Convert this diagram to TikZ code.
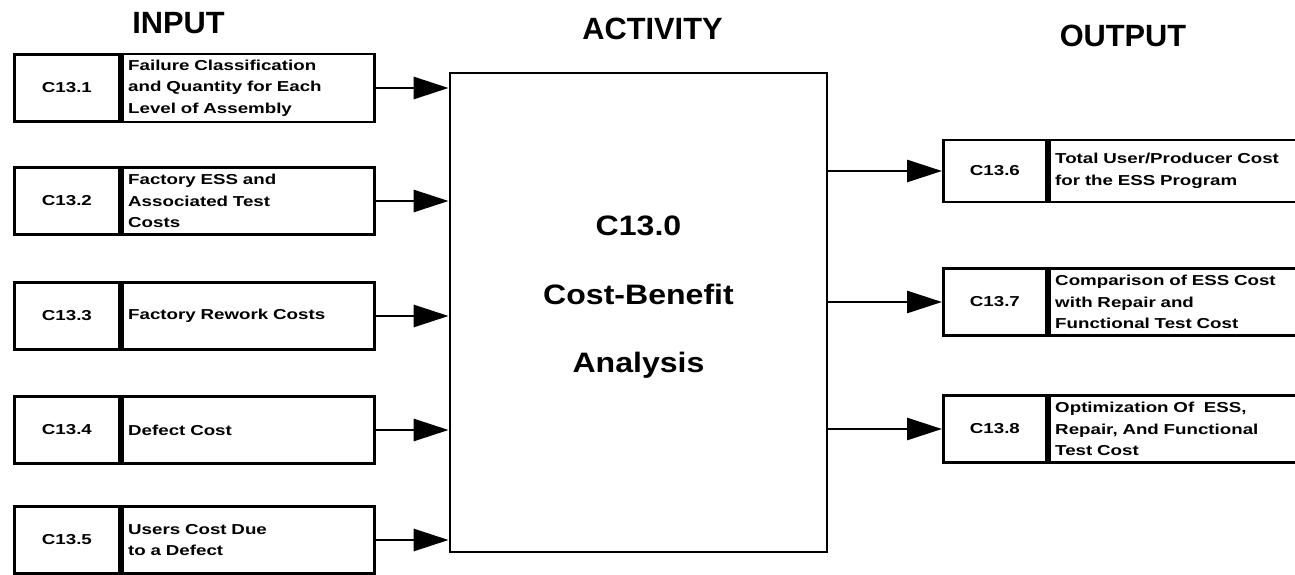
\documentclass[tikz,border=0pt]{standalone}
\usepackage{fontspec}
\setmainfont{Liberation Sans}
\newfontfamily\boxfont{Liberation Sans}[FakeStretch=1.3]
\newfontfamily\widefont{Liberation Sans}[FakeStretch=1.14]
\usepackage{tikz}
\usetikzlibrary{shapes, arrows.meta, positioning}
\tikzstyle{arrow} = [-{Triangle[length=0.7cm, width=0.44cm]}, line width=1.6pt]
\tikzstyle{idbox} = [draw, line width=1.6pt, rectangle, minimum width=2.1cm, minimum height=1.34cm, inner sep=0pt, font=\boxfont\bfseries\fontsize{8.2}{10}\selectfont]
\tikzstyle{inbox} = [draw, line width=1.6pt, rectangle, text width=4.8cm, inner xsep=0.12cm, minimum height=1.34cm, align=left, font=\boxfont\bfseries\fontsize{8.2}{12.2}\selectfont]
\tikzstyle{outbox} = [inbox, text width=4.7cm]
\tikzstyle{heading} = [font=\bfseries\fontsize{17.5}{20}\selectfont]

\begin{document}
\begin{tikzpicture}
    \useasboundingbox (0, 0) rectangle (25.9, -11.5);

    \node [heading] (hin) at (3.57, -0.46) {INPUT};
    \node [heading] (hact) at (13.05, -0.58) {ACTIVITY};
    \node [heading] (hout) at (22.46, -0.72) {OUTPUT};

    % activity
    \node (act) [draw, line width=1.6pt, minimum width=7.54cm, minimum height=9.58cm] at (12.77, -6.25) {};
    \node (acttxt) [align=center, font=\widefont\bfseries\fontsize{16}{39}\selectfont] at ([yshift=0.3cm]act.center) {C13.0\\Cost-Benefit\\Analysis};

    % inputs
    \node (id1) [idbox, anchor=west] at (0.26, -1.76) {C13.1};
    \node (in1) [inbox, anchor=west] at (id1.east) {Failure Classification\\and Quantity for Each\\Level of Assembly};
    \node (id2) [idbox, anchor=west] at (0.26, -4.02) {C13.2};
    \node (in2) [inbox, anchor=west] at (id2.east) {Factory ESS and\\Associated Test\\Costs};
    \node (id3) [idbox, anchor=west] at (0.26, -6.32) {C13.3};
    \node (in3) [inbox, anchor=west] at (id3.east) {Factory Rework Costs};
    \node (id4) [idbox, anchor=west] at (0.26, -8.60) {C13.4};
    \node (in4) [inbox, anchor=west] at (id4.east) {Defect Cost};
    \node (id5) [idbox, anchor=west] at (0.26, -10.8) {C13.5};
    \node (in5) [inbox, anchor=west] at (id5.east) {Users Cost Due\\to a Defect};

    % outputs
    \node (id6) [idbox, anchor=west, minimum width=2.06cm, minimum height=1.24cm] at (18.84, -3.42) {C13.6};
    \node (out6) [outbox, anchor=west, minimum height=1.24cm] at (id6.east) {Total User/Producer Cost\\for the ESS Program};
    \node (id7) [idbox, anchor=west, minimum width=2.06cm] at (18.84, -6.04) {C13.7};
    \node (out7) [outbox, anchor=west] at (id7.east) {Comparison of ESS Cost\\with Repair and\\Functional Test Cost};
    \node (id8) [idbox, anchor=west, minimum width=2.06cm] at (18.84, -8.58) {C13.8};
    \node (out8) [outbox, anchor=west] at (id8.east) {Optimization Of \ ESS,\\Repair, And Functional\\Test Cost};

    \foreach \i in {1,...,5}
        \draw [arrow] (in\i.east) -- (in\i.east -| act.west);
    \foreach \i in {6,7,8}
        \draw [arrow] (id\i.west -| act.east) -- (id\i.west);

\end{tikzpicture}
\end{document}
